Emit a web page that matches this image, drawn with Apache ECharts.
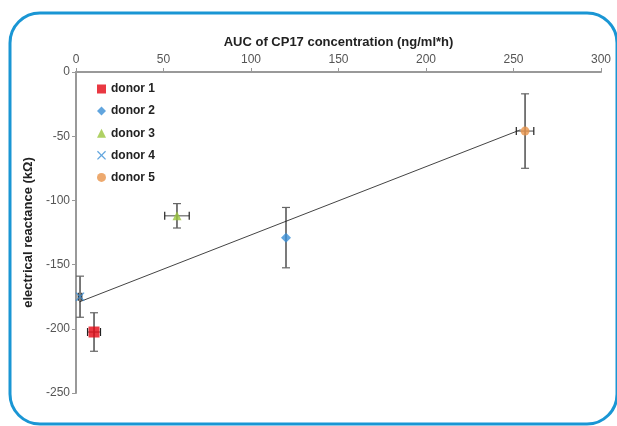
<!DOCTYPE html>
<html><head><meta charset="utf-8">
<script src="https://cdn.jsdelivr.net/npm/echarts@6/dist/echarts.min.js"></script>
<style>html,body{margin:0;padding:0;background:#fff}#c{width:617px;height:426px}</style>
</head><body><div id="c"></div>
<script>
var donors = ['donor 1','donor 2','donor 3','donor 4','donor 5'];
var auc = [10.3, 120, 57.7, 2.3, 256.6];
var reactance = [-202.5, -129, -112, -175, -46];
var aucErr = [3.7, 0, 7, 1, 5];
var reactErr = [15, 23.5, 9.5, 16, 29];
var colors = ['#e30613', '#3a8fd6', '#9bc53d', '#3a8fd6', '#e8944a'];
var symbols = ['rect', 'diamond', 'triangle', 'path://M0,1L1,0L5,4L9,0L10,1L6,5L10,9L9,10L5,6L1,10L0,9L4,5Z', 'circle'];
var symbolSizes = [11, 10, 9, 9, 9];
var trendX = [2, 254];
var trendY = [-179, -45];
var xTicks = [0, 50, 100, 150, 200, 250, 300];
var yTicks = [0, -50, -100, -150, -200, -250];

var font = '"Liberation Sans Narrow", "Liberation Sans", Arial, sans-serif';
var chart = echarts.init(document.getElementById('c'));
var series = [];
series.push({
  type: 'line', name: 'trend', silent: true, symbol: 'none',
  data: trendX.map(function (x, i) { return [x, trendY[i]]; }),
  lineStyle: { color: '#444', width: 1 }, z: 1
});
series.push({
  type: 'custom', name: 'err', silent: true, z: 2,
  data: auc.map(function (x, i) { return [x, reactance[i], aucErr[i], reactErr[i]]; }),
  renderItem: function (params, api) {
    var x = api.value(0), y = api.value(1), xe = api.value(2), ye = api.value(3);
    var c = 4;
    var st = { stroke: '#222', lineWidth: 1.2 };
    var cs = { stroke: '#666', lineWidth: 1.2 };
    var children = [];
    var top = api.coord([x, y + ye]), bot = api.coord([x, y - ye]);
    children.push({ type: 'line', shape: { x1: top[0], y1: top[1], x2: bot[0], y2: bot[1] }, style: st });
    children.push({ type: 'line', shape: { x1: top[0] - c, y1: top[1], x2: top[0] + c, y2: top[1] }, style: cs });
    children.push({ type: 'line', shape: { x1: bot[0] - c, y1: bot[1], x2: bot[0] + c, y2: bot[1] }, style: cs });
    if (xe > 0) {
      var l = api.coord([x - xe, y]), r = api.coord([x + xe, y]);
      children.push({ type: 'line', shape: { x1: l[0], y1: l[1], x2: r[0], y2: r[1] }, style: cs });
      children.push({ type: 'line', shape: { x1: l[0], y1: l[1] - c, x2: l[0], y2: l[1] + c }, style: st });
      children.push({ type: 'line', shape: { x1: r[0], y1: r[1] - c, x2: r[0], y2: r[1] + c }, style: st });
    }
    return { type: 'group', children: children };
  }
});
donors.forEach(function (d, i) {
  series.push({
    type: 'scatter', name: d, z: 5,
    symbol: symbols[i], symbolSize: symbolSizes[i],
    itemStyle: { color: colors[i] },
    data: [[auc[i], reactance[i]]]
  });
});

chart.setOption({
  animation: false,
  backgroundColor: '#fff',
  graphic: [{
    type: 'rect', silent: true,
    shape: { x: 10, y: 13, width: 607, height: 411, r: 30 },
    style: { fill: 'none', stroke: '#1a96d4', lineWidth: 3 }
  }],
  grid: { left: 76, right: 16, top: 72, bottom: 33 },
  legend: {
    orient: 'vertical', left: 92, top: 78, itemGap: 10.1,
    itemWidth: 9, itemHeight: 9,
    data: donors.map(function (d, i) { return { name: d, icon: symbols[i] }; }),
    textStyle: { fontFamily: font, fontWeight: 'bold', fontSize: 12, color: '#222' }
  },
  xAxis: {
    type: 'value', position: 'top', min: 0, max: 300, interval: 50,
    name: 'AUC of CP17 concentration (ng/ml*h)', nameLocation: 'middle', nameGap: 22,
    nameTextStyle: { fontFamily: font, fontWeight: 'bold', fontSize: 13, color: '#222' },
    axisLine: { onZero: false, lineStyle: { color: '#999', width: 2 } },
    axisTick: { show: true, length: 4, lineStyle: { color: '#999' } },
    axisLabel: { fontFamily: font, fontSize: 12, color: '#555', margin: 6 },
    splitLine: { show: false }
  },
  yAxis: {
    type: 'value', min: -250, max: 0, interval: 50,
    name: 'electrical reactance (kΩ)', nameLocation: 'middle', nameGap: 38, nameRotate: 90,
    nameTextStyle: { fontFamily: font, fontWeight: 'bold', fontSize: 13, color: '#222' },
    axisLine: { show: true, onZero: false, lineStyle: { color: '#999', width: 2 } },
    axisTick: { show: true, length: 4, lineStyle: { color: '#999' } },
    axisLabel: { fontFamily: font, fontSize: 12, color: '#555', margin: 6 },
    splitLine: { show: false }
  },
  series: series
});
</script></body></html>
